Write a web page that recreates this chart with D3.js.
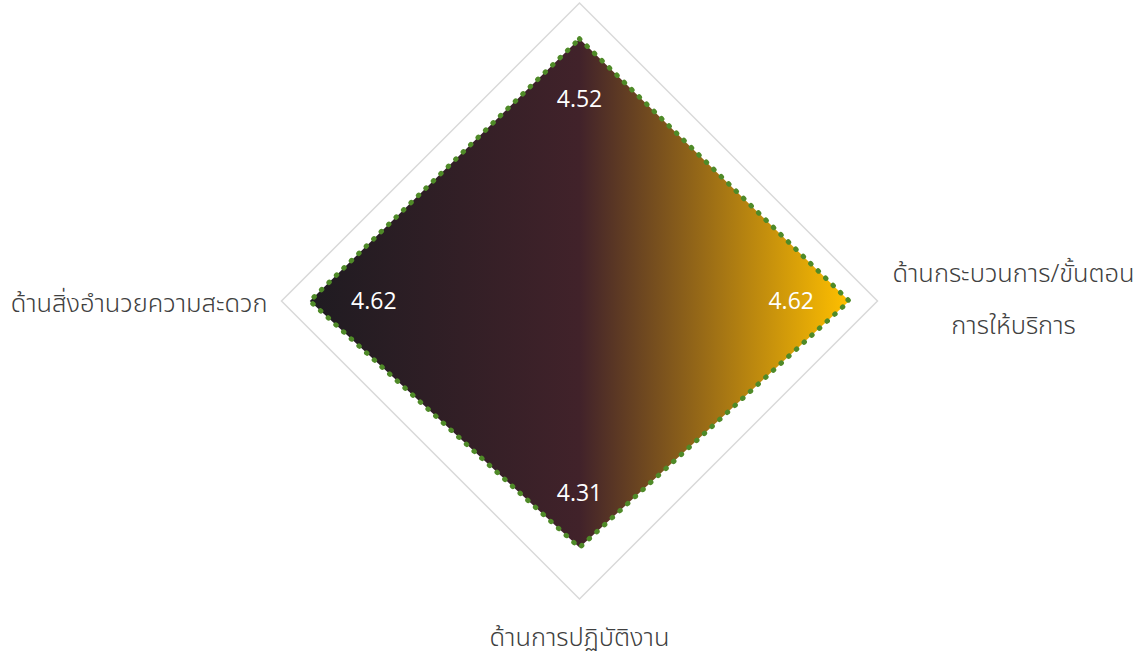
<!DOCTYPE html>
<html>
<head>
<meta charset="utf-8">
<script src="https://cdn.jsdelivr.net/npm/d3@7"></script>
<style>
  html, body { margin: 0; padding: 0; background: #ffffff; }
  svg { display: block; }
</style>
</head>
<body>
<div id="chart"></div>
<script>
// axes go clockwise from the top; the top axis label is cut off in the picture
const categories = ["", "ด้านกระบวนการ/ขั้นตอน|การให้บริการ", "ด้านการปฏิบัติงาน", "ด้านสิ่งอำนวยความสะดวก"];
const values = [4.52, 4.62, 4.31, 4.62];
const axisRange = [1, 5];

const width = 1148;
const height = 656;
const cx = 579.5;
const cy = 301;
const radius = 298;

const r = d3.scaleLinear().domain(axisRange).range([0, radius]);
const angle = d3.scaleLinear().domain([0, categories.length]).range([0, 2 * Math.PI]);

const svg = d3.select('#chart')
  .append('svg')
  .attr('width', width)
  .attr('height', height);

const defs = svg.append('defs');
const grad = defs.append('linearGradient')
  .attr('id', 'fillGrad')
  .attr('x1', 0).attr('y1', 0)
  .attr('x2', 1).attr('y2', 0);
grad.append('stop').attr('offset', '0%').attr('stop-color', '#1f1b21');
grad.append('stop').attr('offset', '50%').attr('stop-color', '#41222a');
grad.append('stop').attr('offset', '100%').attr('stop-color', '#ffc000');

const g = svg.append('g')
  .attr('transform', 'translate(' + cx + ',' + cy + ')');

const line = d3.lineRadial()
  .angle((d, i) => angle(i))
  .radius(d => r(d))
  .curve(d3.curveLinearClosed);

// outer grid ring
g.append('path')
  .attr('d', line(categories.map(() => axisRange[1])))
  .attr('fill', 'none')
  .attr('stroke', '#d9d9d9')
  .attr('stroke-width', 1.5);

// data area
g.append('path')
  .attr('d', line(values))
  .attr('fill', 'url(#fillGrad)')
  .attr('stroke', '#4f8a28')
  .attr('stroke-width', 5)
  .attr('stroke-linecap', 'round')
  .attr('stroke-dasharray', '0.6 9.8');

// value labels, pulled inward from each vertex
const labelPad = [60, 58, 55, 64];
g.selectAll('text.value')
  .data(values)
  .enter().append('text')
  .attr('class', 'value')
  .attr('x', (d, i) => Math.sin(angle(i)) * (r(d) - labelPad[i]))
  .attr('y', (d, i) => -Math.cos(angle(i)) * (r(d) - labelPad[i]))
  .attr('dy', '0.35em')
  .attr('text-anchor', 'middle')
  .attr('font-family', '"Open Sans", sans-serif')
  .attr('font-weight', 500)
  .attr('font-size', 23)
  .attr('fill', '#ffffff')
  .text(d => d.toFixed(2));

// category labels
const labelPos = [
  { x: 0, y: -radius - 30, anchor: 'middle' },
  { x: 434, y: -28, anchor: 'middle' },
  { x: 0, y: 336, anchor: 'middle' },
  { x: -312, y: 2, anchor: 'end' }
];
const cats = g.selectAll('text.cat')
  .data(categories)
  .enter().append('text')
  .attr('class', 'cat')
  .attr('transform', (d, i) => 'translate(' + labelPos[i].x + ',' + labelPos[i].y + ')')
  .attr('text-anchor', (d, i) => labelPos[i].anchor)
  .attr('font-family', '"Noto Sans Thai", "Noto Sans Thai UI", "Leelawadee UI", Tahoma, sans-serif')
  .attr('font-weight', 300)
  .attr('font-size', 25)
  .attr('fill', '#404040');

cats.selectAll('tspan')
  .data(d => d ? d.split('|') : [])
  .enter().append('tspan')
  .attr('x', 0)
  .attr('y', (d, i) => i * 52)
  .attr('dy', '0.35em')
  .text(d => d);

// size the category font so the left label spans about as wide as in the source
const leftLabel = cats.filter((d, i) => i === 3).node();
const w = leftLabel.getComputedTextLength();
if (w > 0) cats.attr('font-size', 25 * 257 / w);
</script>
</body>
</html>
